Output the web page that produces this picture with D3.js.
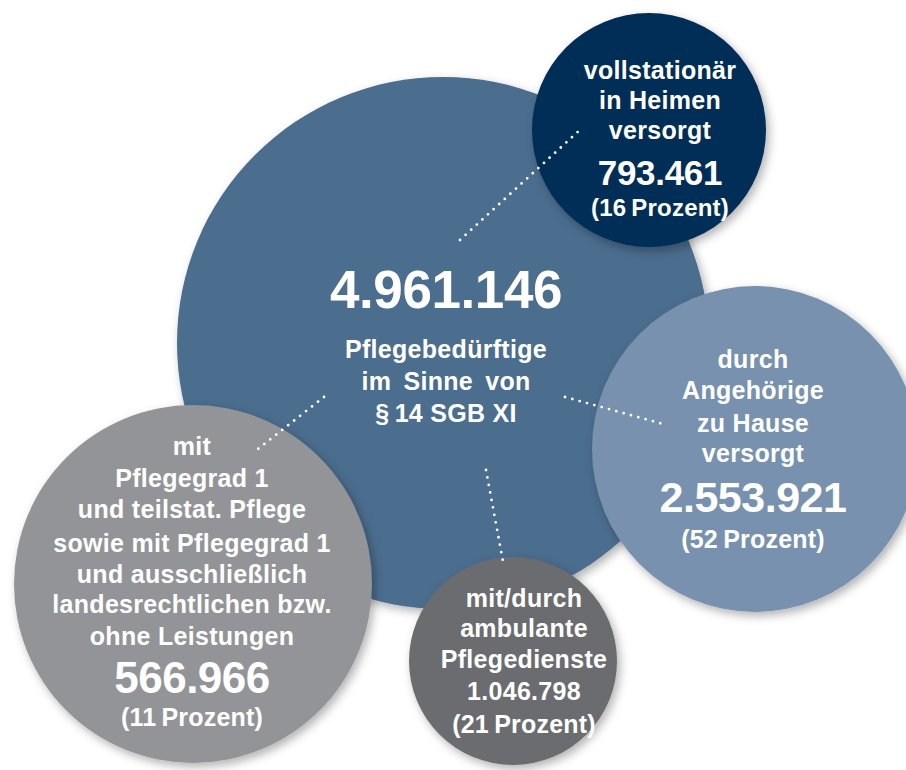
<!DOCTYPE html>
<html>
<head>
<meta charset="utf-8">
<script src="https://cdn.jsdelivr.net/npm/d3@7"></script>
<style>
  html, body { margin: 0; padding: 0; background: #ffffff; }
  svg { display: block; }
  text { font-family: "Liberation Sans", Arial, Helvetica, sans-serif; font-weight: bold; fill: #ffffff; }
</style>
</head>
<body>
<svg id="chart" width="906" height="770"></svg>
<script>
// ---------- DATA ----------
const categories = ["gesamt", "vollstationär", "Angehörige", "ambulant", "Pflegegrad 1"];
const values = [4961146, 793461, 2553921, 1046798, 566966];
const percents = [null, 16, 52, 21, 11];
const labelLines = [
  ["Pflegebedürftige", "im Sinne von", "§\u200914 SGB XI"],
  ["vollstationär", "in Heimen", "versorgt"],
  ["durch", "Angehörige", "zu Hause", "versorgt"],
  ["mit/durch", "ambulante", "Pflegedienste"],
  ["mit", "Pflegegrad 1", "und teilstat. Pflege", "sowie mit Pflegegrad 1", "und ausschließlich", "landesrechtlichen bzw.", "ohne Leistungen"]
];

// ---------- LAYOUT (positions / styles) ----------
const layout = [
  {cx: 443, cy: 343, r: 266, fill: "#4b6d8e", tx: 446, valueFirst: true,
   valueY: 308, valueSize: 53, valueLs: -0.4, lineYs: [358, 390, 422], lineSize: 25, pctY: null},
  {cx: 649, cy: 130, r: 117, fill: "#032d57", tx: 660,
   lineYs: [79, 109, 139], lineSize: 25, valueY: 185, valueSize: 35, valueLs: -0.3, pctY: 216, pctSize: 24},
  {cx: 755, cy: 449, r: 163, fill: "#7791ae", tx: 753,
   lineYs: [368, 399, 432, 462], lineSize: 25, valueY: 512, valueSize: 43, valueLs: -0.5, pctY: 548, pctSize: 25},
  {cx: 513, cy: 661, r: 104, fill: "#6b6c70", tx: 524,
   lineYs: [607, 637, 668], lineSize: 25, valueY: 700, valueSize: 25, valueLs: 0.3, pctY: 733, pctSize: 25},
  {cx: 193, cy: 584, r: 179, fill: "#939498", tx: 192,
   lineYs: [455, 487, 518, 552, 583, 613, 645], lineSize: 25, valueY: 693, valueSize: 44, valueLs: -0.5, pctY: 726, pctSize: 25}
];
const connectors = [
  {x1: 460, y1: 240, x2: 582, y2: 128},
  {x1: 565, y1: 397, x2: 663, y2: 424},
  {x1: 486, y1: 470, x2: 504, y2: 567},
  {x1: 324, y1: 397, x2: 258, y2: 449}
];

// ---------- DRAW ----------
const de = d3.formatLocale({decimal: ",", thousands: ".", grouping: [3], currency: ["", " €"]});
const fmt = de.format(",d");

const svg = d3.select("#chart");
const defs = svg.append("defs");
const f = defs.append("filter").attr("id", "shadow")
  .attr("x", "-20%").attr("y", "-20%").attr("width", "140%").attr("height", "140%");
f.append("feDropShadow").attr("dx", 3).attr("dy", 4).attr("stdDeviation", 5)
  .attr("flood-color", "#000").attr("flood-opacity", 0.3);

const data = categories.map((c, i) => ({
  cat: c, value: values[i], pct: percents[i], lines: labelLines[i], ...layout[i]
}));

svg.append("g").selectAll("circle").data(data).join("circle")
  .attr("cx", d => d.cx).attr("cy", d => d.cy).attr("r", d => d.r)
  .attr("fill", d => d.fill).attr("filter", "url(#shadow)");

svg.append("g").selectAll("line").data(connectors).join("line")
  .attr("x1", d => d.x1).attr("y1", d => d.y1).attr("x2", d => d.x2).attr("y2", d => d.y2)
  .attr("stroke", "#ffffff").attr("stroke-width", 2.8).attr("stroke-linecap", "round")
  .attr("stroke-dasharray", "0 7.6");

const tg = svg.append("g");
data.forEach(d => {
  const t = tg.append("text").attr("text-anchor", "middle");
  d.lines.forEach((ln, j) => {
    t.append("tspan").attr("x", d.tx).attr("y", d.lineYs[j])
      .attr("font-size", d.lineSize).attr("letter-spacing", 0.3)
      .attr("word-spacing", (d.valueFirst && j === 1) ? 5 : 0)
      .text(ln);
  });
  t.append("tspan").attr("x", d.tx).attr("y", d.valueY)
    .attr("font-size", d.valueSize).attr("letter-spacing", d.valueLs)
    .text(fmt(d.value));
  if (d.pct != null) {
    t.append("tspan").attr("x", d.tx).attr("y", d.pctY)
      .attr("font-size", d.pctSize).attr("letter-spacing", 0.2)
      .text("(" + d.pct + "\u2009Prozent)");
  }
});
</script>
</body>
</html>
